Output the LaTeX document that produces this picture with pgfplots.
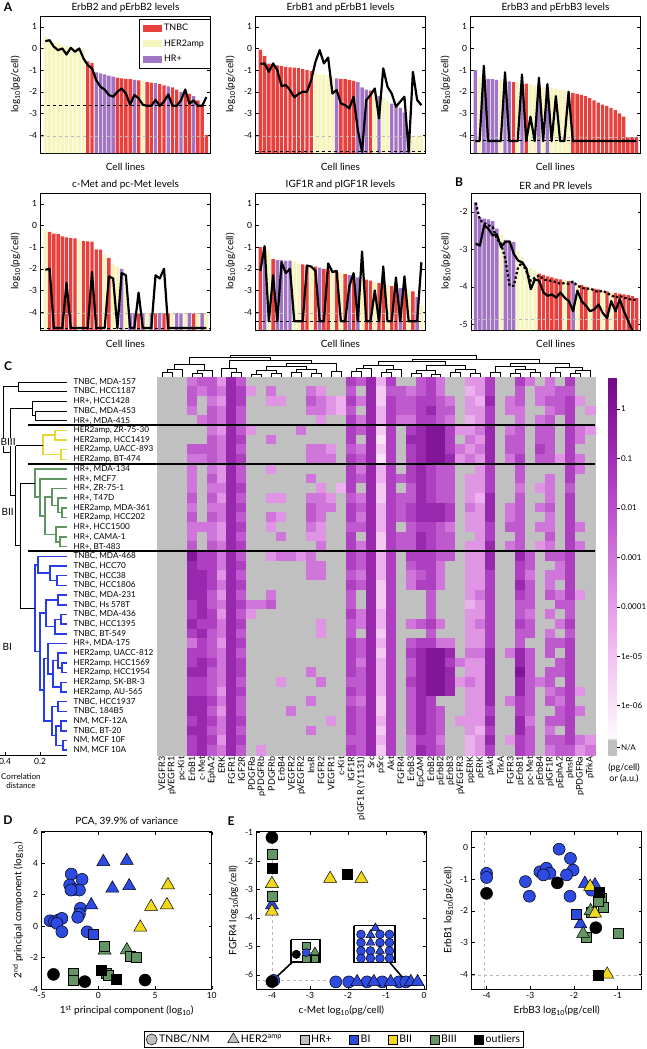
\documentclass[border=0pt]{standalone}
\usepackage{fontspec}
\setmainfont{Lato}
\usepackage{pgfplots}
\usepackage{pgfplotstable}
\pgfplotsset{compat=1.18}

\definecolor{ctnbc}{RGB}{232,64,60}
\definecolor{cher}{RGB}{247,245,190}
\definecolor{chr}{RGB}{162,116,196}
\definecolor{cbi}{RGB}{45,75,225}
\definecolor{cbii}{RGB}{242,216,28}
\definecolor{cbiii}{RGB}{100,150,100}
\definecolor{dyel}{RGB}{238,214,50}
\definecolor{dgrn}{RGB}{95,150,95}
\definecolor{dblu}{RGB}{40,60,235}
\definecolor{cna}{RGB}{192,192,192}

\newcommand\fs[2]{\fontsize{#1}{#2}\selectfont}
% dendrogram links: horizontal (rows) and vertical (columns)
\newcommand\Uh[6][black, line width=0.6pt]{\addplot[#1] coordinates {(#3,#2) (#4,#2) (#4,#5) (#6,#5)};}
\newcommand\Uv[6][black, line width=0.5pt]{\addplot[#1] coordinates {(#2,#3) (#2,#4) (#5,#4) (#5,#6)};}

\pgfplotsset{
  % meta = heatmap code; code c <-> log10 value (c-9)*0.75, 0 = N/A
  colormap={hm}{
    rgb255(0pt)=(192,192,192) rgb255(30pt)=(192,192,192) rgb255(35pt)=(254,250,254)
    rgb255(100pt)=(250,226,248) rgb255(200pt)=(242,194,242) rgb255(300pt)=(228,158,232)
    rgb255(400pt)=(208,118,218) rgb255(500pt)=(186,80,202) rgb255(600pt)=(160,46,182)
    rgb255(700pt)=(130,22,152) rgb255(765pt)=(112,12,132)},
  every axis/.append style={
    font=\fs{10}{12},
    tick label style={font=\fs{8.5}{10}},
    /pgf/number format/assume math mode=true,
    tick style={black, line width=0.4pt},
    axis line style={line width=0.5pt},
  },
  barpanel/.style={
    scale only axis, anchor=north west, width=169.5pt, height=137pt,
    xmin=-0.1, xmax=39.9, xtick=\empty,
    tick align=inside, major tick length=3pt,
    xlabel={Cell lines}, ylabel={log\textsubscript{10}(pg/cell)},
    title style={font=\fs{10}{12}, yshift=-6pt},
    xlabel style={yshift=-7pt}, ylabel style={yshift=2pt},
  },
  panelA/.style={barpanel, ymin=0, ymax=6.33,
    ytick={0.83,1.83,2.83,3.83,4.83,5.83}, yticklabels={-4,-3,-2,-1,0,1},
    y filter/.expression={y+4.83}},
  bars/.style={ybar, bar width=0.8, bar shift=0pt, draw=none, fill=#1,
    legend image code/.code={\fill[fill=#1] (0pt,-3.5pt) rectangle (19pt,3.5pt);}},
  level/.style={black, line width=2.2pt, line join=round, forget plot},
  dlim/.style={black, dashed, line width=1.1pt, forget plot},
  glim/.style={gray!55, dashed, line width=0.6pt, forget plot},
  scatpanel/.style={scale only axis, anchor=north west, height=157.3pt,
    tick align=inside, major tick length=3pt, clip=false,
    label style={font=\fs{10}{12}}},
  pc/.style={only marks, mark=*, mark size=6pt, mark options={fill=#1, draw=black, line width=0.5pt}},
  pt/.style={only marks, mark=triangle*, mark size=7.5pt, mark options={fill=#1, draw=black, line width=0.5pt}},
  ps/.style={only marks, mark=square*, mark size=5pt, mark options={fill=#1, draw=black, line width=0.5pt}},
}

% heatmap: rows = cell lines (top to bottom), columns = proteins; 0 = N/A, 1..9 = light..dark
\pgfplotstableread[header=false]{
0 0 0 5 6 6 4 8 6 0 0 0 0 0 0 0 0 0 0 7 6 8 3 7 0 0 6 7 5 0 0 4 4 7 0 0 7 5 0 5 0 7 0 0
0 0 0 6 5 6 5 8 7 4 0 5 0 0 0 5 4 0 0 6 0 8 2 6 6 5 6 7 5 0 0 3 4 7 0 0 6 0 5 5 6 6 0 0
0 0 0 6 0 5 4 8 7 0 0 4 4 0 0 6 5 4 3 7 5 8 2 7 6 6 7 7 6 5 0 4 3 8 0 5 6 0 5 6 6 7 4 0
0 0 0 5 0 6 5 8 6 0 0 0 0 0 0 5 5 4 3 6 0 8 3 7 6 6 7 8 6 6 0 4 4 7 0 5 5 0 0 5 6 7 0 4
0 0 0 0 5 6 5 8 6 0 0 0 0 0 0 0 4 0 0 7 5 8 3 7 5 5 7 7 6 5 0 3 4 7 0 0 5 0 5 6 0 7 0 0
0 0 0 0 0 5 4 8 6 4 0 0 0 0 5 0 0 0 0 7 6 8 2 7 0 7 8 9 9 7 4 4 5 8 0 5 6 0 6 6 0 7 5 4
0 0 0 0 0 6 5 8 7 0 0 5 0 0 0 0 0 0 0 7 0 8 1 7 0 8 8 9 9 7 0 5 4 8 0 6 6 0 6 6 0 7 5 0
0 0 0 6 6 6 5 8 6 0 0 0 0 0 0 5 5 4 0 6 5 8 2 7 0 7 8 9 9 7 5 4 5 8 0 6 6 0 7 6 0 7 0 0
0 0 0 5 5 6 5 8 7 0 0 0 0 0 0 5 5 5 0 7 6 8 1 7 0 7 8 9 9 8 4 5 4 8 0 5 7 0 6 6 4 7 5 0
0 0 0 5 0 5 4 8 6 0 0 4 0 0 0 0 0 0 0 7 5 8 3 7 0 7 8 7 6 6 0 0 4 7 0 0 6 0 0 0 0 7 5 0
0 0 0 5 0 6 4 8 6 0 0 0 0 0 0 5 0 0 0 7 6 8 3 7 6 7 8 7 6 6 0 4 4 7 0 0 6 0 0 5 0 7 0 0
0 0 0 5 0 5 5 8 7 0 0 0 0 0 0 0 4 0 3 7 0 8 2 7 0 6 8 7 6 6 0 4 4 7 0 0 5 0 4 5 0 6 0 0
0 0 0 6 0 6 4 8 6 0 0 4 4 0 0 5 5 4 0 6 5 8 2 7 6 6 8 7 6 6 0 4 3 8 0 0 6 0 0 5 0 7 0 0
0 0 0 5 0 5 5 8 7 0 0 0 0 0 0 6 5 5 0 7 6 8 3 7 6 7 8 8 8 7 0 5 4 8 0 5 6 0 5 6 0 7 0 0
0 0 0 6 0 6 5 8 6 0 0 5 4 0 0 6 5 0 0 7 5 8 3 7 6 7 8 8 8 7 0 4 4 8 0 5 6 0 0 5 0 7 0 0
0 0 0 5 5 5 4 8 7 0 0 4 0 0 0 5 4 0 0 6 6 8 3 7 0 6 7 7 6 5 0 4 4 7 0 6 6 0 5 5 0 7 5 0
0 0 0 5 0 5 4 8 6 0 0 0 5 0 0 4 4 0 0 7 0 8 2 7 6 6 8 7 6 6 0 0 4 7 0 0 6 0 0 6 0 7 0 0
0 0 0 6 0 6 5 8 7 0 0 0 0 0 0 0 5 0 0 7 5 8 2 7 6 6 8 7 6 6 0 4 4 8 0 5 6 0 4 5 0 7 5 0
0 0 0 9 7 7 5 8 6 0 0 4 5 5 4 5 0 0 0 7 6 8 3 7 0 7 7 7 6 6 0 4 4 8 0 0 8 6 0 6 6 7 0 0
0 0 0 8 7 7 5 8 7 0 0 0 0 0 0 5 5 0 0 7 6 8 3 7 0 6 7 7 5 0 0 4 4 8 0 0 7 6 0 0 5 7 0 0
0 0 0 8 8 7 4 8 6 0 0 0 0 0 0 5 5 0 0 6 5 8 3 7 0 5 6 7 5 0 0 4 4 7 0 0 7 5 0 5 5 7 0 0
0 0 0 8 8 7 5 8 7 0 0 0 0 0 0 0 0 0 0 7 6 8 2 7 0 5 7 7 5 0 0 4 4 7 0 0 8 6 0 5 0 7 0 0
0 0 0 8 8 6 4 8 6 0 0 5 0 0 0 0 0 0 0 6 0 8 2 7 0 0 0 6 0 0 0 4 5 7 0 0 7 6 0 6 5 7 4 0
0 0 0 7 8 6 5 8 7 5 5 6 0 0 0 0 0 0 0 6 0 8 2 7 0 0 0 6 0 0 0 3 4 7 0 0 6 6 0 0 6 6 0 0
0 0 0 7 8 7 4 8 6 4 0 0 0 0 0 0 0 0 0 7 5 8 3 7 0 0 0 6 0 0 0 4 4 7 0 0 6 5 0 5 0 6 0 0
0 0 0 8 7 7 5 8 7 0 0 0 0 0 0 0 4 0 0 6 5 8 3 7 0 5 6 7 5 0 0 4 5 7 0 0 7 6 0 0 5 7 0 0
0 0 0 7 8 6 5 8 6 0 0 0 0 0 0 0 4 0 0 6 0 8 2 7 0 0 0 6 0 0 0 4 4 7 0 0 6 6 0 5 0 6 0 0
0 0 0 5 7 6 4 8 7 0 0 0 0 0 0 0 0 0 0 7 6 8 3 7 0 6 7 7 5 5 0 4 4 7 0 0 6 0 0 6 6 7 0 0
0 0 0 7 7 6 5 8 6 0 0 0 0 0 0 0 0 0 0 7 6 8 2 7 0 7 8 9 9 8 0 5 5 8 0 5 8 6 0 6 0 7 0 0
0 0 0 7 8 7 5 8 7 0 0 0 0 0 0 0 0 0 0 7 5 8 3 7 0 6 8 9 9 7 5 4 4 8 0 0 8 6 0 0 6 7 0 0
0 0 0 8 8 6 5 8 7 0 0 0 0 0 0 5 0 0 0 7 6 8 3 7 0 6 8 9 9 8 0 4 4 8 0 0 9 6 0 6 6 7 0 0
0 0 0 7 7 6 5 8 6 0 0 0 4 0 0 0 5 0 0 6 6 8 3 7 0 7 8 9 9 8 4 5 4 8 0 0 8 6 5 6 0 7 0 0
0 0 0 7 7 6 4 8 7 0 0 0 0 0 0 0 0 0 0 7 6 8 3 7 0 6 8 9 9 8 0 4 4 8 0 0 8 6 0 5 6 7 4 0
0 0 0 8 8 7 5 8 6 0 0 0 0 0 0 5 0 0 0 6 5 8 2 7 0 6 8 7 0 0 0 4 4 8 0 5 7 6 0 6 5 7 0 0
0 0 0 8 8 6 4 8 6 0 0 0 0 5 0 0 0 0 0 7 6 8 2 7 0 6 8 7 6 0 0 4 4 7 0 0 7 6 0 0 6 7 5 0
0 0 0 7 8 7 5 8 7 0 0 0 0 0 0 0 0 4 0 7 6 8 3 7 0 6 8 7 6 0 4 4 4 8 0 0 8 5 0 6 6 7 0 0
0 0 0 8 8 6 5 8 6 0 0 0 0 0 0 5 0 0 0 7 6 8 2 7 0 6 8 7 6 0 0 4 3 7 0 0 8 6 0 5 0 7 0 0
0 0 0 7 8 7 4 8 7 0 0 0 0 0 0 0 0 0 0 6 6 8 3 7 0 5 7 7 5 0 0 3 4 8 0 4 7 6 0 6 6 7 5 4
0 0 0 7 8 6 5 8 6 0 4 0 0 0 0 0 0 0 0 7 6 8 2 7 0 5 8 7 6 0 0 3 4 7 0 0 7 6 0 5 6 6 4 5
}\hmdata

\begin{document}
\begin{tikzpicture}
\useasboundingbox (0,0) rectangle (646pt,-1049pt);

% ---------------- A: ErbB2 ----------------
\begin{axis}[panelA, at={(40.7pt,-16pt)}, title={ErbB2 and pErbB2 levels},
  legend style={at={(1,1)}, anchor=north east, yshift=-3pt, draw=black, line width=0.5pt,
    font=\fs{9}{11}, inner xsep=4pt, inner ysep=3pt, row sep=3.5pt, cells={anchor=west}}]
\addplot[bars=ctnbc] coordinates {(11,-0.6) (12,-0.68) (18,-1.35) (19,-1.38) (20,-1.4) (21,-1.42) (23,-1.48) (25,-1.55) (26,-1.58) (28,-1.65) (29,-1.7) (31,-1.8) (32,-1.9) (34,-2.05) (35,-2.1) (37,-2.4) (38,-2.6) (39,-4.0)};
\addplot[bars=cher] coordinates {(1,0.55) (2,0.35) (3,0.3) (4,0.22) (5,0.15) (6,0.1) (7,0.05) (8,0.02) (9,0) (10,-0.05) (24,-1.5)};
\addplot[bars=chr] coordinates {(13,-1.1) (14,-1.15) (15,-1.2) (16,-1.25) (17,-1.3) (22,-1.45) (27,-1.6) (30,-1.75) (33,-2.0) (36,-2.2)};
\legend{TNBC,HER2amp,HR+}
\addplot[glim] coordinates {(-0.1,-4.05) (39.9,-4.05)};
\addplot[dlim] coordinates {(-0.1,-2.65) (39.9,-2.65)};
\addplot[level] table[header=false, row sep=\\, x expr=\coordindex+1, y index=0] {0.34\\0.38\\0.08\\-0.08\\0.0\\-0.28\\0.03\\-0.15\\0.0\\-0.46\\-0.77\\-0.92\\-1.46\\-1.77\\-1.9\\-2.15\\-2.23\\-2.0\\-1.85\\-2.08\\-2.6\\-2.15\\-2.3\\-2.6\\-2.65\\-2.65\\-2.38\\-2.65\\-2.45\\-2.12\\-2.65\\-2.65\\-2.4\\-1.9\\-2.55\\-2.4\\-2.65\\-2.65\\-2.25\\};
\end{axis}

% ---------------- A: ErbB1 ----------------
\begin{axis}[panelA, at={(255.7pt,-16pt)}, title={ErbB1 and pErbB1 levels}]
\addplot[bars=ctnbc] coordinates {(1,-0.05) (2,-0.35) (3,-0.7) (4,-0.72) (5,-0.78) (6,-0.82) (7,-0.85) (8,-0.87) (9,-0.88) (10,-0.9) (11,-0.95) (12,-1.0) (13,-1.05) (20,-1.4) (21,-1.42) (22,-1.45) (23,-1.5) (27,-1.95)};
\addplot[bars=cher] coordinates {(14,-1.15) (15,-1.2) (16,-1.22) (17,-1.25) (18,-1.3) (28,-2.1) (30,-2.3) (31,-2.45) (37,-4.05) (38,-4.05) (39,-4.0)};
\addplot[bars=chr] coordinates {(19,-1.38) (24,-1.55) (25,-1.8) (26,-1.9) (29,-2.2) (32,-2.55) (33,-2.65) (34,-2.75) (35,-2.95) (36,-4.05)};
\addplot[glim] coordinates {(-0.1,-4.05) (39.9,-4.05)};
\addplot[dlim] coordinates {(-0.1,-4.77) (39.9,-4.77)};
\addplot[level] table[header=false, row sep=\\, x expr=\coordindex+1, y index=0] {-0.72\\-0.69\\-1.08\\-0.69\\-1.0\\-1.74\\-1.69\\-1.92\\-2.26\\-2.1\\-2.0\\-2.0\\-1.46\\-0.62\\-0.08\\-0.69\\-0.42\\-2.08\\-1.92\\-2.54\\-2.62\\-2.77\\-2.23\\-3.77\\-4.77\\-2.38\\-2.15\\-1.85\\-3.23\\-0.92\\-1.77\\-2.08\\-2.69\\-2.46\\-2.23\\-4.77\\-1.08\\-2.38\\-2.62\\};
\end{axis}

% ---------------- A: ErbB3 ----------------
\begin{axis}[panelA, at={(470.7pt,-16pt)}, title={ErbB3 and pErbB3 levels}]
\addplot[bars=ctnbc] coordinates {(10,-1.55) (13,-1.62) (24,-2.05) (25,-2.1) (26,-2.15) (27,-2.2) (28,-2.3) (29,-2.4) (30,-2.5) (31,-2.6) (32,-2.65) (33,-2.75) (34,-2.85) (35,-3.0) (36,-3.15) (37,-4.1) (38,-4.1) (39,-4.1)};
\addplot[bars=cher] coordinates {(2,-1.3) (7,-1.48) (11,-1.57) (14,-1.65) (15,-1.7) (17,-1.75) (19,-1.8) (20,-1.85) (21,-1.9) (22,-1.93) (23,-1.95)};
\addplot[bars=chr] coordinates {(1,-1.0) (3,-1.38) (4,-1.4) (5,-1.42) (6,-1.45) (8,-1.5) (9,-1.52) (12,-1.6) (16,-1.72) (18,-1.78)};
\addplot[glim] coordinates {(-0.1,-4.1) (39.9,-4.1)};
\addplot[dlim] coordinates {(-0.1,-4.25) (39.9,-4.25)};
\addplot[level] table[header=false, row sep=\\, x expr=\coordindex+1, y index=0] {-4.28\\-4.28\\-0.8\\-4.28\\-4.28\\-4.28\\-4.28\\-1.1\\-4.28\\-4.28\\-4.28\\-1.2\\-4.28\\-3.15\\-4.28\\-1.35\\-4.28\\-1.65\\-4.28\\-2.2\\-4.28\\-4.28\\-2.0\\-4.28\\-4.28\\-4.28\\-4.28\\-4.28\\-4.28\\-4.28\\-4.28\\-4.28\\-4.28\\-4.28\\-4.28\\-4.28\\-4.28\\-4.28\\-4.28\\};
\end{axis}

% ---------------- A: c-Met ----------------
\begin{axis}[panelA, at={(40.7pt,-193pt)}, title={c-Met and pc-Met levels}]
\addplot[bars=ctnbc] coordinates {(2,-0.3) (3,-0.38) (4,-0.4) (5,-0.5) (6,-0.55) (7,-0.58) (8,-0.6) (10,-0.72) (11,-0.73) (12,-0.75) (13,-1.1) (14,-1.12) (16,-1.5) (23,-4.05) (27,-4.05) (29,-4.05) (30,-4.05) (36,-4.05)};
\addplot[bars=cher] coordinates {(1,-0.2) (9,-0.7) (15,-1.35) (17,-1.75) (18,-1.9) (20,-2.5) (25,-4.05) (31,-4.05) (34,-4.05) (37,-4.05) (39,-4.05)};
\addplot[bars=chr] coordinates {(19,-2.0) (21,-4.05) (22,-4.05) (24,-4.05) (26,-4.05) (28,-4.05) (32,-4.05) (33,-4.05) (35,-4.05) (38,-4.05)};
\addplot[glim] coordinates {(-0.1,-4.05) (39.9,-4.05)};
\addplot[dlim] coordinates {(-0.1,-4.74) (39.9,-4.74)};
\addplot[level] table[header=false, row sep=\\, x expr=\coordindex+1, y index=0] {-2.05\\-2.0\\-4.74\\-4.74\\-4.74\\-2.65\\-4.74\\-4.74\\-4.74\\-4.74\\-4.74\\-2.15\\-4.74\\-4.74\\-4.74\\-2.35\\-2.45\\-4.74\\-2.2\\-2.3\\-4.74\\-4.74\\-3.1\\-4.74\\-4.74\\-4.74\\-2.3\\-2.45\\-2.0\\-4.74\\-4.74\\-4.74\\-4.74\\-4.74\\-4.74\\-4.74\\-4.74\\-4.74\\-4.74\\};
\end{axis}

% ---------------- A: IGF1R ----------------
\begin{axis}[panelA, at={(255.7pt,-193pt)}, title={IGF1R and pIGF1R levels}]
\addplot[bars=ctnbc] coordinates {(1,-1.0) (4,-1.55) (11,-1.8) (12,-1.85) (14,-1.9) (16,-2.0) (17,-2.05) (19,-2.15) (21,-2.25) (23,-2.35) (26,-2.5) (27,-2.55) (29,-2.65) (30,-2.7) (32,-2.8) (33,-2.85) (35,-2.95) (37,-3.05)};
\addplot[bars=cher] coordinates {(3,-1.15) (9,-1.65) (10,-1.75) (13,-1.88) (18,-2.1) (20,-2.2) (25,-2.45) (28,-2.6) (31,-2.75) (36,-3.0) (39,-3.7)};
\addplot[bars=chr] coordinates {(2,-1.1) (5,-1.6) (6,-1.6) (7,-1.62) (8,-1.63) (15,-1.95) (22,-2.3) (24,-2.4) (34,-2.9) (38,-3.3)};
\addplot[glim] coordinates {(-0.1,-4.05) (39.9,-4.05)};
\addplot[dlim] coordinates {(-0.1,-4.43) (39.9,-4.43)};
\addplot[level] table[header=false, row sep=\\, x expr=\coordindex+1, y index=0] {-2.1\\-0.95\\-4.43\\-2.3\\-4.43\\-1.7\\-2.2\\-2.0\\-4.43\\-4.43\\-4.43\\-1.85\\-1.9\\-2.1\\-4.43\\-4.43\\-1.75\\-2.15\\-2.1\\-4.43\\-4.43\\-2.8\\-2.2\\-4.43\\-1.2\\-4.43\\-4.43\\-3.0\\-4.43\\-1.9\\-4.43\\-4.43\\-2.4\\-4.43\\-2.35\\-4.43\\-4.43\\-4.43\\-1.7\\};
\end{axis}

% ---------------- B: ER / PR ----------------
\begin{axis}[barpanel, at={(471pt,-193pt)}, title={ER and PR levels},
  ymin=0, ymax=3.65, ytick={0.15,1.15,2.15,3.15}, yticklabels={-5,-4,-3,-2},
  y filter/.expression={y+5.15}]
\addplot[bars=ctnbc] coordinates {(16,-3.65) (17,-3.68) (18,-3.72) (19,-3.75) (20,-3.78) (21,-3.8) (23,-3.85) (26,-3.95) (27,-4.0) (29,-4.05) (30,-4.07) (32,-4.12) (34,-4.16) (35,-4.18) (36,-4.2) (37,-4.22) (38,-4.25) (39,-4.3)};
\addplot[bars=cher] coordinates {(7,-2.6) (11,-3.05) (12,-3.2) (13,-3.5) (14,-3.5) (15,-3.55) (22,-3.82) (25,-3.92) (28,-4.02) (31,-4.1) (33,-4.14)};
\addplot[bars=chr] coordinates {(1,-1.75) (2,-2.15) (3,-2.18) (4,-2.2) (5,-2.25) (6,-2.45) (8,-2.75) (9,-2.78) (10,-2.8) (24,-3.88)};
\addplot[glim] coordinates {(-0.1,-4.87) (39.9,-4.87)};
\addplot[level] table[header=false, row sep=\\, x expr=\coordindex+1, y index=0] {-2.85\\-2.9\\-2.36\\-2.45\\-2.63\\-2.6\\-2.94\\-2.8\\-2.79\\-3.12\\-3.3\\-3.35\\-3.52\\-4.06\\-3.8\\-3.84\\-4.15\\-4.24\\-4.2\\-4.29\\-4.15\\-4.29\\-4.38\\-4.65\\-4.1\\-4.38\\-4.5\\-4.65\\-4.6\\-4.47\\-4.7\\-4.83\\-4.38\\-4.65\\-4.33\\-4.65\\-4.91\\-5.18\\-5.3\\};
\addplot[level, dash pattern=on 2.4pt off 2.2pt] table[header=false, row sep=\\, x expr=\coordindex+1, y index=0] {-1.76\\-2.22\\-2.3\\-2.36\\-2.4\\-2.72\\-2.85\\-3.26\\-3.97\\-3.97\\-3.48\\-3.35\\-3.6\\-3.84\\-3.75\\-3.7\\-3.8\\-3.83\\-3.84\\-3.88\\-3.92\\-3.9\\-3.92\\-3.86\\-3.97\\-4.02\\-4.06\\-4.04\\-4.1\\-4.14\\-4.1\\-4.17\\-4.22\\-4.29\\-4.24\\-4.29\\-4.31\\-4.36\\-4.33\\};
\end{axis}

% ---------------- C: heatmap ----------------
\begin{axis}[at={(157pt,-377pt)}, anchor=north west, scale only axis, width=438pt, height=378pt,
  xmin=-0.5, xmax=43.5, ymin=-0.5, ymax=38.5,
  axis line style={draw=none}, major tick length=0pt,
  xtick={0,...,43},
  xticklabels={VEGFR3,pVEGFR1,pc-Kit,ErbB1,c-Met,EphA2,ERK,FGFR1,IGF2R,PDGFRa,pPDGFRb,PDGFRb,ErbB4,VEGFR2,pVEGFR2,InsR,FGFR2,VEGFR1,c-Kit,IGF1R,{pIGF1R (Y1131)},Src,pSrc,Akt,FGFR4,ErbB3,EpCAM,ErbB2,pErbB2,pErbB3,pVEGFR3,ppERK,pERK,pAkt,TrkA,FGFR3,pErbB1,pc-Met,pErbB4,pIGF1R,pEphA2,pInsR,pPDGFRa,pTrkA},
  ytick={0,...,38},
  yticklabels={{NM, MCF 10A},{NM, MCF 10F},{TNBC, BT-20},{NM, MCF-12A},{TNBC, 184B5},{TNBC, HCC1937},{HER2amp, AU-565},{HER2amp, SK-BR-3},{HER2amp, HCC1954},{HER2amp, HCC1569},{HER2amp, UACC-812},{HR+, MDA-175},{TNBC, BT-549},{TNBC, HCC1395},{TNBC, MDA-436},{TNBC, Hs 578T},{TNBC, MDA-231},{TNBC, HCC1806},{TNBC, HCC38},{TNBC, HCC70},{TNBC, MDA-468},{HR+, BT-483},{HR+, CAMA-1},{HR+, HCC1500},{HER2amp, HCC202},{HER2amp, MDA-361},{HR+, T47D},{HR+, ZR-75-1},{HR+, MCF7},{HR+, MDA-134},{HER2amp, BT-474},{HER2amp, UACC-893},{HER2amp, HCC1419},{HER2amp, ZR-75-30},{HR+, MDA-415},{TNBC, MDA-453},{HR+, HCC1428},{TNBC, HCC1187},{TNBC, MDA-157}},
  x tick label style={rotate=90, anchor=east, font=\fs{9}{10}, inner sep=1.5pt},
  y tick label style={anchor=west, xshift=-87pt, font=\fs{8.2}{9}},
  colormap name=hm, point meta min=-0.3333, point meta max=9.8667,
  colorbar,
  colorbar style={at={(parent axis.north east)}, anchor=north west, xshift=5pt,
    scale only axis, width=8pt, height=378pt,
    ytick={-0.1333,1,2.3333,3.6667,5,6.3333,7.6667,9},
    yticklabels={N/A,1e-06,1e-05,0.0001,0.001,0.01,0.1,1},
    ytick pos=right, tick align=outside, major tick length=3pt,
    yticklabel style={font=\fs{8}{9.5}, xshift=-2pt},
    axis line style={draw=none}}]
\pgfplotsinvokeforeach{0,...,43}{
  \addplot[scatter, only marks, mark=square*, mark size=5pt,
    scatter/use mapped color={draw=mapped color, fill=mapped color},
    point meta=explicit]
    table[x expr=#1, y expr=38-\coordindex, meta index=#1] {\hmdata};
}
\end{axis}

% top dendrogram (columns)
\begin{axis}[at={(157pt,-330pt)}, anchor=north west, scale only axis, width=438pt, height=47pt,
  xmin=-0.5, xmax=43.5, ymin=0, ymax=47, y filter/.expression={377-y}, hide axis, clip=false]
\Uv{0}{377}{372}{1}{377}
\Uv{0.5}{372}{369}{2}{377}
\Uv{3}{377}{373}{4}{377}
\Uv{3.5}{373}{370}{5}{377}
\Uv{1.25}{369}{364}{4.25}{370}
\Uv{7}{377}{372}{8}{377}
\Uv{6}{377}{368}{7.5}{372}
\Uv{9}{377}{374}{10}{377}
\Uv{11}{377}{373}{12}{377}
\Uv{9.5}{374}{370}{11.5}{373}
\Uv{13}{377}{372}{14}{377}
\Uv{15}{377}{373}{16}{377}
\Uv{13.5}{372}{369}{15.5}{373}
\Uv{10.5}{370}{366}{14.5}{369}
\Uv{17}{377}{371}{18}{377}
\Uv{12.5}{366}{363}{17.5}{371}
\Uv{6.75}{368}{360}{15}{363}
\Uv{2.75}{364}{357}{10.875}{360}
\Uv{19}{377}{371}{20}{377}
\Uv{19.5}{371}{368}{21}{377}
\Uv{22}{377}{372}{23}{377}
\Uv{22.5}{372}{369}{24}{377}
\Uv{20.25}{368}{365}{23.25}{369}
\Uv{25}{377}{373}{26}{377}
\Uv{27}{377}{374}{28}{377}
\Uv{25.5}{373}{370}{27.5}{374}
\Uv{29}{377}{372}{30}{377}
\Uv{31}{377}{373}{32}{377}
\Uv{29.5}{372}{369}{31.5}{373}
\Uv{26.5}{370}{365}{30.5}{369}
\Uv{21.75}{365}{361}{28.5}{365}
\Uv{33}{377}{372}{34}{377}
\Uv{35}{377}{373}{36}{377}
\Uv{37}{377}{372}{38}{377}
\Uv{35.5}{373}{369}{37.5}{372}
\Uv{33.5}{372}{366}{36.5}{369}
\Uv{39}{377}{372}{40}{377}
\Uv{41}{377}{373}{42}{377}
\Uv{41.5}{373}{370}{43}{377}
\Uv{39.5}{372}{367}{42.25}{370}
\Uv{35}{366}{363}{40.875}{367}
\Uv{25.125}{361}{359}{37.94}{363}
\Uv{6.8125}{357}{355}{31.53}{359}
\end{axis}

% left dendrogram (cell lines)
\begin{axis}[at={(0pt,-377pt)}, anchor=north west, scale only axis, width=67pt, height=378pt,
  xmin=0, xmax=67, ymin=-0.5, ymax=38.5, y filter/.expression={38-y},
  axis y line=none, axis x line*=bottom, xtick={5,40}, xticklabels={0.4,0.2},
  tick align=inside, major tick length=3pt, clip=false]
\Uh{0}{67}{18}{1}{67}
\Uh{3}{67}{35}{4}{67}
\Uh{2}{67}{32}{3.5}{35}
\Uh[dyel, line width=1.6pt]{5}{67}{55}{6}{67}
\Uh[dyel, line width=1.6pt]{7}{67}{61}{8}{67}
\Uh[dyel, line width=1.6pt]{5.5}{55}{43}{7.5}{61}
\Uh[dgrn, line width=1.6pt]{13}{67}{62}{14}{67}
\Uh[dgrn, line width=1.6pt]{12}{67}{58}{13.5}{62}
\Uh[dgrn, line width=1.6pt]{11}{67}{52}{12.75}{58}
\Uh[dgrn, line width=1.6pt]{16}{67}{60}{17}{67}
\Uh[dgrn, line width=1.6pt]{15}{67}{56}{16.5}{60}
\Uh[dgrn, line width=1.6pt]{11.875}{52}{45}{15.75}{56}
\Uh[dgrn, line width=1.6pt]{10}{67}{40}{13.8125}{45}
\Uh[dgrn, line width=1.6pt]{9}{67}{35}{11.906}{40}
\Uh[dblu, line width=1.6pt]{20}{67}{57}{21}{67}
\Uh[dblu, line width=1.6pt]{19}{67}{50}{20.5}{57}
\Uh[dblu, line width=1.6pt]{18}{67}{38}{19.75}{50}
\Uh[dblu, line width=1.6pt]{22}{67}{58}{23}{67}
\Uh[dblu, line width=1.6pt]{24}{67}{61}{25}{67}
\Uh[dblu, line width=1.6pt]{24.5}{61}{55}{26}{67}
\Uh[dblu, line width=1.6pt]{22.5}{58}{46}{25.25}{55}
\Uh[dblu, line width=1.6pt]{29}{67}{62}{30}{67}
\Uh[dblu, line width=1.6pt]{28}{67}{58}{29.5}{62}
\Uh[dblu, line width=1.6pt]{31}{67}{61}{32}{67}
\Uh[dblu, line width=1.6pt]{28.75}{58}{53}{31.5}{61}
\Uh[dblu, line width=1.6pt]{27}{67}{48}{30.125}{53}
\Uh[dblu, line width=1.6pt]{33}{67}{58}{34}{67}
\Uh[dblu, line width=1.6pt]{35}{67}{61}{36}{67}
\Uh[dblu, line width=1.6pt]{37}{67}{63}{38}{67}
\Uh[dblu, line width=1.6pt]{35.5}{61}{56}{37.5}{63}
\Uh[dblu, line width=1.6pt]{33.5}{58}{52}{36.5}{56}
\Uh[dblu, line width=1.6pt]{28.5625}{48}{44}{35}{52}
\Uh[dblu, line width=1.6pt]{23.875}{46}{40}{31.78}{44}
\Uh[dblu, line width=1.6pt]{18.875}{38}{35}{27.83}{40}
\Uh{10.453}{35}{20}{23.35}{35}
\Uh{6.5}{43}{15}{16.9}{20}
\Uh{2.75}{32}{10}{11.7}{15}
\Uh{0.5}{18}{3}{7.23}{10}
\end{axis}

% ---------------- D: PCA ----------------
\begin{axis}[scatpanel, at={(41.7pt,-831.7pt)}, width=170pt,
  xmin=-5, xmax=10, ymin=-4, ymax=6, xtick={-5,0,5,10}, ytick={-4,-2,0,2,4,6},
  title={PCA, 39.9\% of variance}, title style={font=\fs{10}{12}, yshift=-4pt},
  xlabel={1\textsuperscript{st} principal component (log\textsubscript{10})},
  ylabel={2\textsuperscript{nd} principal component (log\textsubscript{10})}]
\addplot[pc=cbi] coordinates {(-2.39,3.31) (-1.44,2.97) (-2.53,2.61) (-2.12,2.33) (-1.67,2.29) (-2.42,2.29) (-1.58,1.13) (-1.67,0.77) (-1.82,0.56) (-4.26,0.34) (-3.87,0.28) (-3.51,0.39) (-3.22,0.49) (-3.66,0.17) (-3.22,-0.36) (-0.99,-0.36)};
\addplot[ps=cbi] coordinates {(-0.46,-0.5)};
\addplot[pt=cbi] coordinates {(0.44,4.09) (2.51,4.16) (1.24,2.4) (2.72,2.55) (-0.63,1.34)};
\addplot[pt=cbii] coordinates {(6.14,2.61) (4.65,1.23) (6.05,1.34) (3.7,-0.08)};
\addplot[pt=cbiii] coordinates {(0.55,-1.55) (2.51,-1.52)};
\addplot[ps=cbiii] coordinates {(0.55,-1.3) (2.81,-1.9) (3.32,-1.99) (-2.24,-3.0) (-2.24,-3.45) (0.73,-3.0) (0.9,-3.15)};
\addplot[pc=black] coordinates {(-3.96,-3.07) (-1.2,-3.53) (4.12,-3.43)};
\addplot[ps=black] coordinates {(0.26,-2.79) (1.59,-3.39)};
\end{axis}

% ---------------- E: FGFR4 vs c-Met ----------------
\begin{axis}[scatpanel, at={(256.7pt,-831.7pt)}, width=169.3pt,
  xmin=-4.4, xmax=0.05, ymin=-6.5, ymax=-0.97, xtick={-4,-3,-2,-1,0}, ytick={-6,-5,-4,-3,-2,-1},
  xlabel={c-Met log\textsubscript{10}(pg/cell)}, ylabel={FGFR4 log\textsubscript{10}(pg/cell)}]
\addplot[glim] coordinates {(-4,-6.5) (-4,-0.97)};
\addplot[glim] coordinates {(-4.4,-6.2) (0.05,-6.2)};
\addplot[pc=black] coordinates {(-4,-1.17)};
\addplot[ps=cbiii] coordinates {(-4,-1.75)};
\addplot[ps=black] coordinates {(-4,-2.27)};
\addplot[pt=cbii] coordinates {(-4,-2.8)};
\addplot[pt=cbi] coordinates {(-4,-3.55)};
\addplot[ps=cbiii] coordinates {(-4,-3.25)};
\addplot[pt=cbii] coordinates {(-4,-3.77)};
\addplot[pc=cbi] coordinates {(-3.95,-6.2)};
\addplot[pc=black] coordinates {(-4,-6.24)};
\addplot[pt=cbii] coordinates {(-2.47,-2.62) (-1.65,-2.62)};
\addplot[ps=black] coordinates {(-2.03,-2.45)};
\addplot[pc=cbi] coordinates {(-2.32,-6.25) (-1.98,-6.25) (-1.5,-6.25) (-1.1,-6.25) (-0.66,-6.25) (-0.48,-6.25)};
\addplot[pt=cbi] coordinates {(-1.76,-6.25) (-1.32,-6.25) (-0.88,-6.25) (-0.35,-6.25) (-0.17,-6.25)};
\addplot[black, line width=1.6pt] coordinates {(-3.45,-5.54) (-3.98,-6.2)};
\addplot[black, line width=1.6pt, fill=white] coordinates {(-3.5,-4.76) (-2.73,-4.76) (-2.73,-5.54) (-3.5,-5.54) (-3.5,-4.76)};
\addplot[pc=black, mark size=4.2pt] coordinates {(-3.36,-5.28)};
\addplot[ps=cbiii, mark size=3.6pt] coordinates {(-3.1,-4.98) (-3.1,-5.44) (-2.87,-5.44)};
\addplot[pc=cbi, mark size=4pt] coordinates {(-3.1,-5.22)};
\addplot[pt=cbiii, mark size=5pt] coordinates {(-2.87,-5.2)};
\addplot[black, line width=1.6pt] coordinates {(-0.9,-5.57) (-0.5,-6.2)};
\addplot[black, line width=1.6pt, fill=white] coordinates {(-1.85,-4.27) (-0.76,-4.27) (-0.76,-5.57) (-1.85,-5.57) (-1.85,-4.27)};
\addplot[pc=cbi, mark size=4.4pt] coordinates {(-1.66,-4.58) (-1.16,-4.58) (-0.91,-4.58) (-1.66,-4.87) (-1.16,-4.87) (-0.91,-4.87) (-1.66,-5.16) (-1.41,-5.16) (-0.91,-5.16) (-1.66,-5.42) (-1.41,-5.42) (-1.16,-5.42) (-0.91,-5.42)};
\addplot[pt=cbi, mark size=5.2pt] coordinates {(-1.41,-4.6) (-1.41,-4.87) (-1.16,-5.16) (-1.28,-4.36)};
\end{axis}

% ---------------- E: ErbB1 vs ErbB3 ----------------
\begin{axis}[scatpanel, at={(471.7pt,-831.7pt)}, width=170pt,
  xmin=-4.34, xmax=-0.45, ymin=-4.46, ymax=0.49, xtick={-4,-3,-2,-1}, ytick={-4,-3,-2,-1,0},
  xlabel={ErbB3 log\textsubscript{10}(pg/cell)}, ylabel={ErbB1 log\textsubscript{10}(pg/cell)}]
\addplot[glim] coordinates {(-4.05,-4.46) (-4.05,0.49)};
\addplot[glim] coordinates {(-4.34,-4.03) (-0.45,-4.03)};
\addplot[pc=cbi] coordinates {(-4.0,-0.82) (-4.0,-0.95) (-3.11,-1.08) (-3.02,-1.54) (-2.78,-0.77) (-2.63,-0.66) (-2.55,-0.82) (-2.7,-0.87) (-2.34,-0.06) (-2.08,-0.35) (-2.02,-0.72) (-2.17,-0.87) (-2.09,-1.54) (-1.6,-1.35)};
\addplot[pt=cbi] coordinates {(-1.75,-1.14) (-1.52,-1.19) (-1.85,-2.42)};
\addplot[ps=cbi] coordinates {(-1.95,-2.1)};
\addplot[ps=cbiii] coordinates {(-1.37,-1.61) (-1.33,-1.89) (-1.6,-2.03) (-1.71,-2.82) (-0.98,-2.72) (-1.45,-1.7)};
\addplot[pt=cbiii] coordinates {(-1.79,-2.72) (-1.62,-2.0)};
\addplot[pt=cbii] coordinates {(-1.63,-1.24) (-1.52,-2.08) (-1.24,-4.0)};
\addplot[pc=black] coordinates {(-4.0,-1.45) (-2.38,-1.12) (-1.5,-2.53)};
\addplot[ps=black] coordinates {(-1.42,-1.4) (-1.44,-4.03)};
\end{axis}

% ---------------- overlay: separators and bottom legend ----------------
\begin{axis}[at={(0pt,0pt)}, anchor=north west, scale only axis, width=646pt, height=1049pt,
  xmin=0, xmax=646, ymin=0, ymax=1049, y filter/.expression={1049-y}, hide axis, clip=false,
  legend columns=7,
  legend style={at={(0.5173,0.001)}, anchor=south, draw=black, line width=0.8pt,
    font=\fs{10.5}{12}, inner sep=1.5pt,
    /tikz/every even column/.append style={column sep=16pt}}]
\addplot[black, line width=2pt, forget plot] coordinates {(28,425.2) (595,425.2)};
\addplot[black, line width=2pt, forget plot] coordinates {(28,464.0) (595,464.0)};
\addplot[black, line width=2pt, forget plot] coordinates {(28,551.2) (595,551.2)};
\addlegendimage{only marks, mark=*, mark size=5.5pt, mark options={fill=cna, draw=black, line width=0.5pt}}
\addlegendentry{TNBC/NM}
\addlegendimage{only marks, mark=triangle*, mark size=6.5pt, mark options={fill=cna, draw=black, line width=0.5pt}}
\addlegendentry{HER2\textsuperscript{amp}}
\addlegendimage{only marks, mark=square*, mark size=4.5pt, mark options={fill=cna, draw=black, line width=0.5pt}}
\addlegendentry{HR+}
\addlegendimage{only marks, mark=square*, mark size=4.5pt, mark options={fill=cbi, draw=black, line width=0.5pt}}
\addlegendentry{BI}
\addlegendimage{only marks, mark=square*, mark size=4.5pt, mark options={fill=cbii, draw=black, line width=0.5pt}}
\addlegendentry{BII}
\addlegendimage{only marks, mark=square*, mark size=4.5pt, mark options={fill=cbiii, draw=black, line width=0.5pt}}
\addlegendentry{BIII}
\addlegendimage{only marks, mark=square*, mark size=4.5pt, mark options={fill=black, draw=black, line width=0.5pt}}
\addlegendentry{outliers}
\end{axis}

% labels
\node[font=\bfseries\fs{12}{14}] at (8pt,-7pt) {A};
\node[font=\bfseries\fs{12}{14}] at (459pt,-182pt) {B};
\node[font=\bfseries\fs{12}{14}] at (8pt,-366pt) {C};
\node[font=\bfseries\fs{12}{14}] at (8pt,-820pt) {D};
\node[font=\bfseries\fs{12}{14}] at (231pt,-821pt) {E};
\node[font=\fs{10}{12}, anchor=west, fill=white, inner sep=0.5pt] at (0pt,-442pt) {BIII};
\node[font=\fs{10}{12}, anchor=west, fill=white, inner sep=0.5pt] at (1pt,-512pt) {BII};
\node[font=\fs{10}{12}, anchor=west, fill=white, inner sep=0.5pt] at (2pt,-647pt) {BI};
\node[font=\fs{8}{9.5}, align=center, anchor=north west, inner sep=1pt] at (0pt,-772pt) {Correlation\\distance};
\node[font=\fs{9}{10.5}, align=center] at (624pt,-773pt) {(pg/cell)\\or (a.u.)};
\end{tikzpicture}
\end{document}
